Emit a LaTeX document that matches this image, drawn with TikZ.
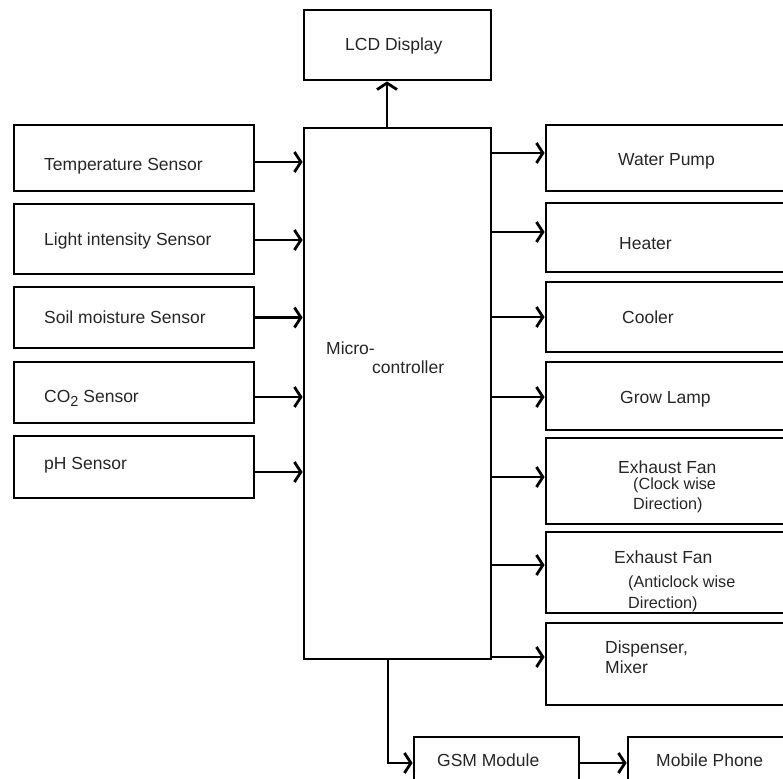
\documentclass[tikz,border=0pt]{standalone}
\usepackage{fontspec}
\setmainfont{Liberation Sans}
\usetikzlibrary{arrows.meta}
\begin{document}
\begin{tikzpicture}[x=1pt,y=-1pt,
  box/.style={draw, line width=2.8pt, rectangle, inner sep=0pt},
  lbl/.style={anchor=base west, inner sep=0pt, font=\fontsize{17.5}{20}\selectfont, text=black!85},
  sublbl/.style={lbl, font=\fontsize{16.2}{19}\selectfont},
  conn/.style={line width=2.8pt, -{Straight Barb[length=6.5pt,width=20pt]}},
]
\useasboundingbox (0,0) rectangle (783,778);
% sensors
\node[box, minimum width=240pt, minimum height=66pt] (temp) at (134,158) {};
\node[box, minimum width=240pt, minimum height=70pt] (light) at (134,239) {};
\node[box, minimum width=240pt, minimum height=61pt] (soil) at (134,317.5) {};
\node[box, minimum width=240pt, minimum height=61pt] (co2) at (134,392.5) {};
\node[box, minimum width=240pt, minimum height=62pt] (ph) at (134,467) {};
% micro controller and LCD
\node[box, minimum width=187pt, minimum height=531pt] (mc) at (397.5,393.5) {};
\node[box, minimum width=187pt, minimum height=70pt] (lcd) at (397.5,45) {};
% actuators
\node[box, minimum width=249pt, minimum height=66pt] (wp) at (670.5,158) {};
\node[box, minimum width=249pt, minimum height=69pt] (heater) at (670.5,237.5) {};
\node[box, minimum width=249pt, minimum height=70pt] (cooler) at (670.5,317) {};
\node[box, minimum width=249pt, minimum height=68pt] (grow) at (670.5,396) {};
\node[box, minimum width=249pt, minimum height=86pt] (excw) at (670.5,481) {};
\node[box, minimum width=249pt, minimum height=81pt] (exacw) at (670.5,572.5) {};
\node[box, minimum width=249pt, minimum height=82pt] (disp) at (670.5,664) {};
% GSM and phone
\node[box, minimum width=165pt, minimum height=63pt] (gsm) at (496.5,768.5) {};
\node[box, minimum width=167pt, minimum height=63pt] (mobile) at (711.5,768.5) {};

% labels
\node[lbl] (tTemp) at (44,170) {Temperature Sensor};
\node[lbl] (tLight) at (44,245) {Light intensity Sensor};
\node[lbl] (tSoil) at (44,323) {Soil moisture Sensor};
\node[lbl] (tCo2) at (44,402) {CO{\fontsize{14.5}{14}\selectfont\raisebox{-4pt}{2}} Sensor};
\node[lbl] (tPh) at (44,469) {pH Sensor};
\node[lbl] (tLcd) at (345,51) {LCD Display};
\node[lbl] (tMc1) at (326,354) {Micro-};
\node[lbl] (tMc2) at (372,373) {controller};
\node[lbl] (tWp) at (618,165) {Water Pump};
\node[lbl] (tHeater) at (619,249) {Heater};
\node[lbl] (tCooler) at (622,323) {Cooler};
\node[lbl] (tGrow) at (620,403) {Grow Lamp};
\node[lbl] (tCw1) at (618,473) {Exhaust Fan};
\node[sublbl] (tCw2) at (633,489) {(Clock wise};
\node[sublbl] (tCw3) at (633,509) {Direction)};
\node[lbl] (tAcw1) at (614,563) {Exhaust Fan};
\node[sublbl] (tAcw2) at (628,587) {(Anticlock wise};
\node[sublbl] (tAcw3) at (628,608) {Direction)};
\node[lbl] (tDisp1) at (605,653) {Dispenser,};
\node[lbl] (tDisp2) at (605,673) {Mixer};
\node[lbl] (tGsm) at (437,766) {GSM Module};
\node[lbl] (tMob) at (656,766) {Mobile Phone};

% sensor connectors
\path ([yshift=-4pt]temp.east) coordinate (s1)
      ([yshift=-1pt]light.east) coordinate (s2)
      (soil.east) coordinate (s3)
      ([yshift=-4.5pt]co2.east) coordinate (s4)
      ([yshift=-5pt]ph.east) coordinate (s5);
\foreach \s in {s1,s2,s3,s4,s5} \draw[conn] (\s) -- (\s -| mc.west);

% actuator connectors
\path ([yshift=5pt]wp.west) coordinate (a1)
      ([yshift=5.5pt]heater.west) coordinate (a2)
      (cooler.west) coordinate (a3)
      ([yshift=-1pt]grow.west) coordinate (a4)
      ([yshift=4pt]excw.west) coordinate (a5)
      ([yshift=7.5pt]exacw.west) coordinate (a6)
      ([yshift=7pt]disp.west) coordinate (a7);
\foreach \a in {a1,a2,a3,a4,a5,a6,a7} \draw[conn] (\a -| mc.east) -- (\a);

% LCD
\path ([xshift=-10.5pt]mc.north) coordinate (u);
\draw[conn] (u) -- (u |- lcd.south);

% GSM
\path ([xshift=-9.5pt]mc.south) coordinate (d);
\path ([yshift=5.5pt]gsm.west) coordinate (g);
\draw[conn] (d) |- (g);
\draw[conn] (g -| gsm.east) -- (g -| mobile.west);
\end{tikzpicture}
\end{document}
